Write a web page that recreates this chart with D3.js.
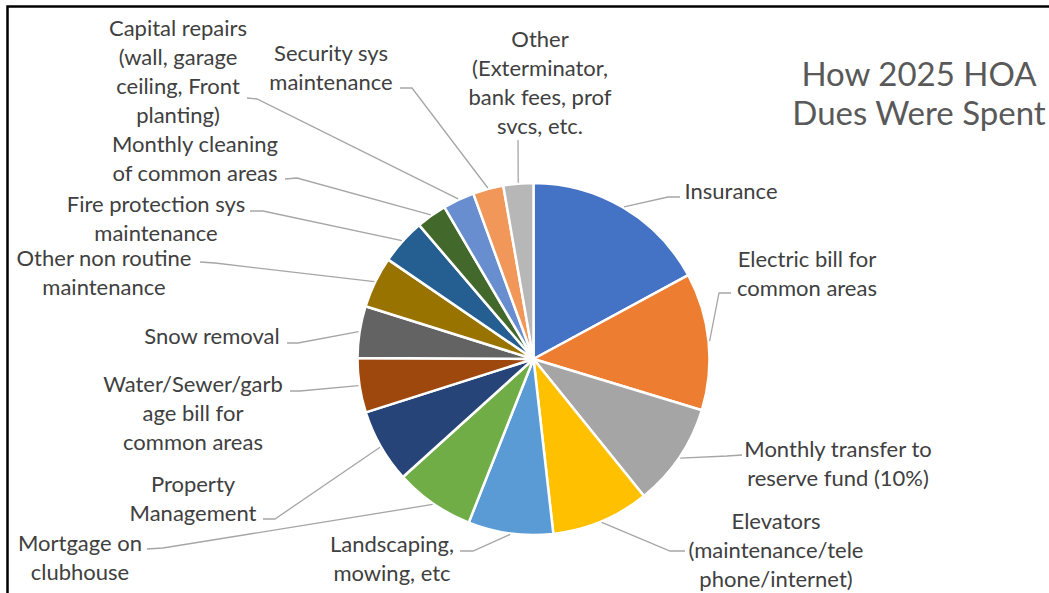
<!DOCTYPE html>
<head>
  <meta charset="utf-8">
  <script src="https://d3js.org/d3.v7.min.js"></script>
  <style>
    body { margin:0; padding:0; background:#fff; }
    text { font-family: Lato, "Open Sans", sans-serif; fill:#404040; }
  </style>
</head>
<body>
<script>
// categories and their share of the 2025 dues (percent)
var categories = [
  "Insurance",
  "Electric bill for common areas",
  "Monthly transfer to reserve fund (10%)",
  "Elevators (maintenance/telephone/internet)",
  "Landscaping, mowing, etc",
  "Mortgage on clubhouse",
  "Property Management",
  "Water/Sewer/garbage bill for common areas",
  "Snow removal",
  "Other non routine maintenance",
  "Fire protection sys maintenance",
  "Monthly cleaning of common areas",
  "Capital repairs (wall, garage ceiling, Front planting)",
  "Security sys maintenance",
  "Other (Exterminator, bank fees, prof svcs, etc."
];
var values = [17.1, 12.6, 9.5, 9.0, 7.8, 7.3, 6.8, 5.0, 4.75, 4.7, 4.2, 2.8, 2.9, 2.8, 2.75];

// label text as wrapped in the chart
var labelLines = [
  ["Insurance"],
  ["Electric bill for", "common areas"],
  ["Monthly transfer to", "reserve fund (10%)"],
  ["Elevators", "(maintenance/tele", "phone/internet)"],
  ["Landscaping,", "mowing, etc"],
  ["Mortgage on", "clubhouse"],
  ["Property", "Management"],
  ["Water/Sewer/garb", "age bill for", "common areas"],
  ["Snow removal"],
  ["Other non routine", "maintenance"],
  ["Fire protection sys", "maintenance"],
  ["Monthly cleaning", "of common areas"],
  ["Capital repairs", "(wall, garage", "ceiling, Front", "planting)"],
  ["Security sys", "maintenance"],
  ["Other", "(Exterminator,", "bank fees, prof", "svcs, etc."]
];
var colors = ["#4472C4","#ED7D31","#A5A5A5","#FFC000","#5B9BD5","#70AD47","#264478",
              "#9E480E","#636363","#997300","#255E91","#43682B","#698ED0","#F1975A","#B7B7B7"];
var title = ["How 2025 HOA", "Dues Were Spent"];

// label placement (as Excel laid them out): block centre x, first line y, leader tail, elbow
var labelLayout = [
  {cx:731, y:190, tail:[680,197], elbow:[668,197]},
  {cx:807, y:258, tail:[731,293], elbow:[719,293]},
  {cx:838, y:448, tail:[742,455], elbow:[727,456]},
  {cx:776, y:520, tail:[685,551], elbow:[670,551]},
  {cx:392, y:543, tail:[460,551], elbow:[473,551]},
  {cx:80,  y:542, tail:[147,549], elbow:[163,548]},
  {cx:193, y:483, tail:[263,519], elbow:[275,519]},
  {cx:193, y:383, tail:[290,391], elbow:[300,391]},
  {cx:212, y:335, tail:[287,343], elbow:[298,343]},
  {cx:104, y:257, tail:[200,262], elbow:[215,263]},
  {cx:156, y:203, tail:[250,211], elbow:[263,211]},
  {cx:195, y:143, tail:[285,179], elbow:[297,178]},
  {cx:178, y:27,  tail:[247,98],  elbow:[257,99]},
  {cx:331, y:52,  tail:[400,88],  elbow:[412,88]},
  {cx:540, y:38,  tail:[518,140], elbow:[518,140]}
];

var width = 1049, height = 593;
var cx = 533.5, cy = 359, radius = 176;
var lineH = 29.3;

var svg = d3.select("body").append("svg")
  .attr("width", width).attr("height", height);

// frame
svg.append("rect")
  .attr("x", 7.5).attr("y", 6.5)
  .attr("width", width + 20).attr("height", height + 20)
  .attr("fill", "none").attr("stroke", "#000").attr("stroke-width", 2.5);

var pie = d3.pie().sort(null).value(function(d) { return d; });
var arcs = pie(values);
var arc = d3.arc().innerRadius(0).outerRadius(radius);

var g = svg.append("g").attr("transform", "translate(" + cx + "," + cy + ")");
g.selectAll("path.slice")
  .data(arcs)
  .enter().append("path")
  .attr("class", "slice")
  .attr("d", arc)
  .attr("fill", function(d, i) { return colors[i]; })
  .attr("stroke", "#fff")
  .attr("stroke-width", 2.5)
  .attr("stroke-linejoin", "round");

// leader lines: from slice edge at mid angle to the label
svg.append("g").selectAll("path")
  .data(arcs)
  .enter().append("path")
  .attr("d", function(d, i) {
    var a = (d.startAngle + d.endAngle) / 2;
    var p0 = [cx + Math.sin(a) * (radius + 1), cy - Math.cos(a) * (radius + 1)];
    var L = labelLayout[i];
    return "M" + p0 + "L" + L.elbow + "L" + L.tail;
  })
  .attr("fill", "none")
  .attr("stroke", "#A6A6A6")
  .attr("stroke-width", 1.3);

// labels
var lab = svg.append("g").selectAll("text")
  .data(labelLines)
  .enter().append("text")
  .attr("text-anchor", "middle")
  .style("font-size", "22px");
lab.selectAll("tspan")
  .data(function(d, i) { return d.map(function(s) { return {s: s, i: i}; }); })
  .enter().append("tspan")
  .attr("x", function(d) { return labelLayout[d.i].cx; })
  .attr("y", function(d, j) { return labelLayout[d.i].y + j * lineH; })
  .attr("dominant-baseline", "central")
  .text(function(d) { return d.s; });

// title
svg.append("text")
  .attr("text-anchor", "middle")
  .style("font-size", "33px")
  .style("fill", "#595959")
  .selectAll("tspan")
  .data(title)
  .enter().append("tspan")
  .attr("x", 919)
  .attr("y", function(d, j) { return 73 + j * 39; })
  .attr("dominant-baseline", "central")
  .text(function(d) { return d; });
</script>
</body>
